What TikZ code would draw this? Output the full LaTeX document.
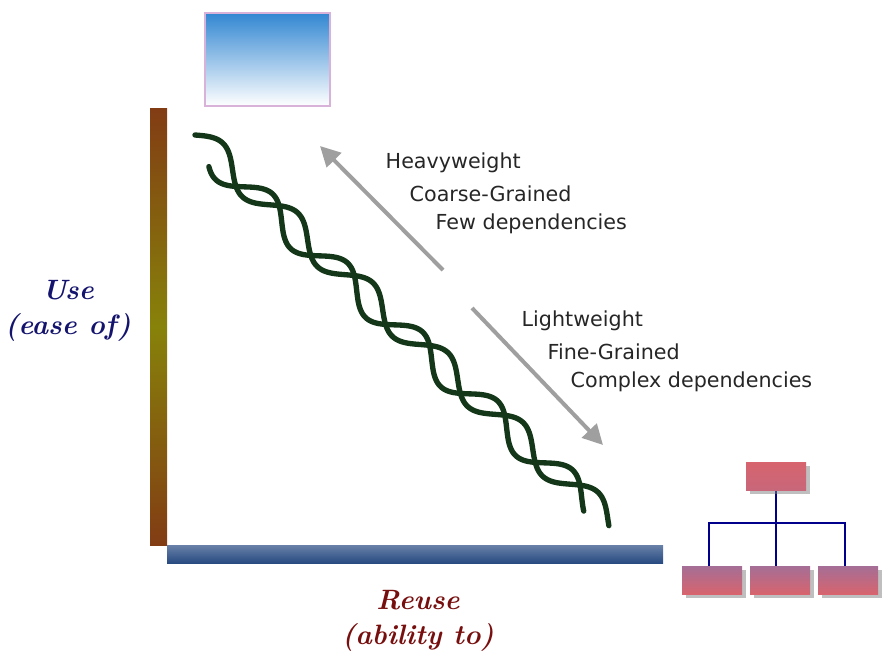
\documentclass[tikz,border=0pt]{standalone}
\usepackage{fontspec}
\newfontfamily\labelfont{DejaVu Sans}
\usetikzlibrary{arrows.meta,shadows}
\definecolor{strand}{RGB}{20,55,25}
\definecolor{axisblue}{RGB}{40,75,130}
\definecolor{navy}{RGB}{20,20,110}
\definecolor{dred}{RGB}{120,15,15}
\definecolor{pinkbox}{RGB}{215,100,110}
\definecolor{mauve}{RGB}{165,110,150}
\definecolor{skyb}{RGB}{50,135,210}
\definecolor{barbrown}{RGB}{130,60,20}
\definecolor{barolive}{RGB}{135,130,10}
\begin{document}
\begin{tikzpicture}[x=0.75pt,y=-0.75pt,
  strandline/.style={draw=strand,line width=4pt,line cap=round},
  grayarrow/.style={draw=gray!75,line width=3pt,-{Triangle[length=15pt,width=15pt]}},
  lbl/.style={font=\labelfont\fontsize{15.5}{18}\selectfont,anchor=west,text=black!85},
  axlbl/.style={font=\bfseries\itshape\fontsize{21}{26}\selectfont,align=center,inner sep=0pt},
  hbox/.style={draw=none,drop shadow={shadow xshift=3pt,shadow yshift=-3pt,opacity=0.5}},
  hline/.style={draw=blue!55!black,line width=1pt}]
\useasboundingbox (0,0) rectangle (892,664);
% top box
\path[top color=skyb,bottom color=white,draw=violet!30,line width=1.5pt] (205,13) rectangle (330,106);
\node (topbox) at (267,60) {};
% axes
\shade[top color=barbrown,bottom color=barbrown,middle color=barolive] (150,108) rectangle (167,545);
\shade[top color=axisblue!70,bottom color=axisblue] (167,545) rectangle (663,563);
\node[axlbl,text=navy] (use) at (68,311) {Use\\(ease of)};
\node[axlbl,text=dred] (reuse) at (418,621) {Reuse\\(ability to)};
% strands
\draw[strandline] plot[domain=0:1,samples=300,smooth] ({195+417*\x+13*0.681*sin(\x*2000)},{135+388*\x-13*0.732*sin(\x*2000)});
\draw[strandline] plot[domain=0:1,samples=300,smooth] ({215+375*\x-14*0.681*sin(\x*1800+40)},{160+345*\x+14*0.732*sin(\x*1800+40)});
% arrows
\coordinate (a1s) at (443,270); \coordinate (a1e) at (320,146);
\coordinate (a2s) at (472,308); \coordinate (a2e) at (603,445);
\draw[grayarrow] (a1s) -- (a1e);
\draw[grayarrow] (a2s) -- (a2e);
\node[lbl] (h1) at (381,163) {Heavyweight};
\node[lbl] (h2) at (405,194) {Coarse-Grained};
\node[lbl] (h3) at (431,224) {Few dependencies};
\node[lbl] (l1) at (517,321) {Lightweight};
\node[lbl] (l2) at (543,352) {Fine-Grained};
\node[lbl] (l3) at (566,382) {Complex dependencies};
% hierarchy
\draw[hline] (776,490) -- (776,523);
\draw[hline] (709,566) -- (709,523) -- (845,523) -- (845,566);
\draw[hline] (776,523) -- (776,566);
\path[hbox,top color=pinkbox,bottom color=pinkbox!70!mauve] (746,462) rectangle (806,490);
\node (root) at (776,476) {};
\foreach \xa/\nm in {682/c1,750/c2,818/c3}{
  \path[hbox,top color=mauve,bottom color=pinkbox] (\xa,566) rectangle ({\xa+60},594);
  \node (\nm) at ({\xa+30},580) {};
}
\end{tikzpicture}
\end{document}
